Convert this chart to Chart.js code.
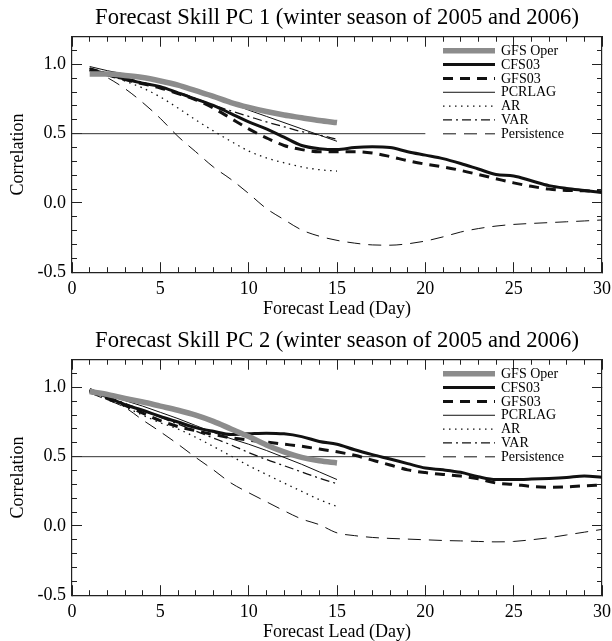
<!DOCTYPE html>
<html>
<head>
<meta charset="utf-8">
<script src="https://cdn.jsdelivr.net/npm/chart.js@4.4.0/dist/chart.umd.min.js"></script>
<style>
  html, body { margin: 0; padding: 0; background: #fff; overflow: hidden; }
  .panel { position: absolute; left: 0; }
  #top { top: 0; }
  #bottom { top: 323px; }
</style>
</head>
<body>
<canvas id="top" class="panel" width="612" height="323"></canvas>
<canvas id="bottom" class="panel" width="612" height="323"></canvas>
<script>
// lead days
const days = [1, 2, 3, 4, 5, 6, 7, 8, 9, 10, 11, 12, 13, 14, 15,
  16, 17, 18, 19, 20, 21, 22, 23, 24, 25, 26, 27, 28, 29, 30];
const refDays = [0, 20];
const refLevel = [0.5, 0.5];

// PC 1
const pc1GfsOper = [0.93, 0.93, 0.92, 0.905, 0.88, 0.85, 0.81, 0.77, 0.725, 0.69, 0.66, 0.635, 0.615, 0.595, 0.58];
const pc1Cfs03 = [0.965, 0.93, 0.895, 0.865, 0.84, 0.795, 0.75, 0.705, 0.645, 0.585, 0.535, 0.475, 0.415, 0.392, 0.385,
  0.40, 0.405, 0.40, 0.37, 0.345, 0.32, 0.285, 0.245, 0.205, 0.195, 0.16, 0.125, 0.105, 0.09, 0.075];
const pc1Gfs03 = [0.96, 0.925, 0.89, 0.86, 0.83, 0.79, 0.745, 0.685, 0.61, 0.535, 0.47, 0.415, 0.385, 0.37, 0.37,
  0.37, 0.36, 0.335, 0.305, 0.28, 0.26, 0.235, 0.205, 0.175, 0.145, 0.12, 0.1, 0.09, 0.088, 0.08];
const pc1Pcrlag = [0.985, 0.955, 0.93, 0.905, 0.88, 0.85, 0.81, 0.77, 0.72, 0.67, 0.625, 0.58, 0.535, 0.49, 0.445];
const pc1Ar = [0.97, 0.93, 0.88, 0.83, 0.765, 0.685, 0.60, 0.52, 0.445, 0.375, 0.325, 0.29, 0.26, 0.24, 0.23];
const pc1Var = [0.975, 0.94, 0.905, 0.87, 0.835, 0.80, 0.755, 0.705, 0.665, 0.625, 0.585, 0.55, 0.515, 0.49, 0.46];
const pc1Persist = [0.97, 0.905, 0.825, 0.725, 0.61, 0.48, 0.37, 0.26, 0.17, 0.068, -0.04, -0.12, -0.195, -0.24, -0.27,
  -0.29, -0.303, -0.305, -0.295, -0.275, -0.245, -0.21, -0.185, -0.167, -0.155, -0.148, -0.142, -0.136, -0.13, -0.123];

// PC 2
const pc2GfsOper = [0.97, 0.95, 0.92, 0.895, 0.865, 0.835, 0.80, 0.755, 0.70, 0.645, 0.585, 0.535, 0.495, 0.47, 0.455];
const pc2Cfs03 = [0.985, 0.93, 0.875, 0.835, 0.79, 0.75, 0.71, 0.683, 0.66, 0.665, 0.67, 0.665, 0.645, 0.61, 0.59,
  0.55, 0.515, 0.483, 0.45, 0.418, 0.405, 0.387, 0.355, 0.335, 0.335, 0.338, 0.343, 0.35, 0.36, 0.352];
const pc2Gfs03 = [0.975, 0.92, 0.87, 0.815, 0.76, 0.717, 0.688, 0.66, 0.637, 0.62, 0.605, 0.59, 0.575, 0.555, 0.535,
  0.51, 0.475, 0.44, 0.405, 0.385, 0.372, 0.36, 0.34, 0.31, 0.30, 0.285, 0.28, 0.282, 0.29, 0.295];
const pc2Pcrlag = [0.98, 0.945, 0.905, 0.865, 0.82, 0.775, 0.725, 0.675, 0.63, 0.59, 0.545, 0.495, 0.445, 0.39, 0.335];
const pc2Ar = [0.97, 0.92, 0.86, 0.80, 0.745, 0.70, 0.64, 0.574, 0.505, 0.435, 0.372, 0.31, 0.25, 0.19, 0.14];
const pc2Var = [0.97, 0.93, 0.885, 0.835, 0.785, 0.735, 0.685, 0.635, 0.585, 0.53, 0.48, 0.435, 0.39, 0.345, 0.305];
const pc2Persist = [0.96, 0.91, 0.855, 0.765, 0.68, 0.59, 0.495, 0.405, 0.31, 0.24, 0.175, 0.11, 0.05, 0.009, -0.05,
  -0.07, -0.083, -0.09, -0.095, -0.1, -0.105, -0.108, -0.112, -0.115, -0.112, -0.1, -0.085, -0.065, -0.045, -0.025];

Chart.defaults.font.family = "'Liberation Serif', 'Times New Roman', serif";
Chart.defaults.color = "#000";

const serif = (size) => ({ family: "'Liberation Serif', serif", size: size, weight: "normal", lineHeight: 1.2 });

// line look of each series
const styles = {
  "GFS Oper": { borderColor: "#8c8c8c", borderWidth: 5.5 },
  "CFS03": { borderColor: "#111", borderWidth: 3 },
  "GFS03": { borderColor: "#111", borderWidth: 3, borderDash: [10, 7] },
  "PCRLAG": { borderColor: "#111", borderWidth: 1 },
  "AR": { borderColor: "#111", borderWidth: 1.3, borderDash: [1.5, 4.5] },
  "VAR": { borderColor: "#111", borderWidth: 1.3, borderDash: [9, 4, 2, 4] },
  "Persistence": { borderColor: "#111", borderWidth: 1, borderDash: [13, 8] },
};

function points(xs, ys) {
  return ys.map((v, i) => ({ x: xs[i], y: v }));
}

function makeDatasets(list) {
  const sets = list.map(([name, values]) => Object.assign({
    label: name,
    data: points(days, values),
    pointRadius: 0,
    cubicInterpolationMode: "monotone",
    fill: false,
    inLegend: true,
  }, styles[name]));
  sets.push({
    label: "ref",
    data: points(refDays, refLevel),
    borderColor: "#333",
    borderWidth: 1,
    pointRadius: 0,
    fill: false,
    inLegend: false,
  });
  return sets;
}

// legend drawn inside the plot, top right
const inlineLegend = {
  id: "inlineLegend",
  afterDatasetsDraw(chart) {
    const { ctx, chartArea } = chart;
    ctx.save();
    chart.data.datasets.forEach((ds, i) => {
      if (!ds.inLegend) return;
      const y = chartArea.top + 14 + i * 13.85;
      ctx.strokeStyle = ds.borderColor;
      ctx.lineWidth = ds.borderWidth;
      ctx.setLineDash(ds.borderDash || []);
      ctx.beginPath();
      ctx.moveTo(chartArea.right - 159, y);
      ctx.lineTo(chartArea.right - 107, y);
      ctx.stroke();
      ctx.setLineDash([]);
      ctx.fillStyle = "#000";
      ctx.font = "14px 'Liberation Serif'";
      ctx.textBaseline = "middle";
      ctx.textAlign = "left";
      ctx.fillText(ds.label, chartArea.right - 101, y + 0.5);
    });
    ctx.restore();
  },
};

function tickAxis(pos, min, max, step, len, weight, size, extra) {
  const horizontal = pos === "top" || pos === "bottom";
  return Object.assign({
    type: "linear",
    position: pos,
    min: min,
    max: max,
    weight: weight,
    ticks: { stepSize: step, display: false, includeBounds: false },
    grid: { drawOnChartArea: false, tickLength: -len, color: "#222", tickWidth: 1 },
    border: { display: false },
    afterFit: (s) => {
      if (horizontal) s.height = size; else s.width = size;
      // labels may hang past the plot edge, no extra padding for them
      s.paddingLeft = 0; s.paddingRight = 0; s.paddingTop = 0; s.paddingBottom = 0;
    },
  }, extra || {});
}

function makeScales(canvasH) {
  const xh = canvasH - 272.2;
  return {
    x: tickAxis("bottom", 0, 30, 5, 10, 1, xh, {
      ticks: { stepSize: 5, padding: 16, font: serif(18), color: "#000", maxRotation: 0 },
      border: { display: true, color: "#222", width: 1.2 },
      title: { display: true, text: "Forecast Lead (Day)", font: serif(18), color: "#000", padding: { top: 0, bottom: 3.2 } },
    }),
    xMinor: tickAxis("bottom", 0, 30, 1, 5, 0, 0),
    xTop: tickAxis("top", 0, 30, 5, 10, 1, 0, { border: { display: true, color: "#222", width: 1.2 } }),
    xTopMinor: tickAxis("top", 0, 30, 1, 5, 0, 0),
    y: tickAxis("left", -0.5, 1.2, 0.5, 10, 1, 72, {
      ticks: { stepSize: 0.5, includeBounds: false, padding: 16, font: serif(18), color: "#000",
        callback: (v) => v.toFixed(1) },
      border: { display: true, color: "#222", width: 1.2 },
      title: { display: true, text: "Correlation", font: serif(18), color: "#000", padding: { top: 7.2, bottom: 0 } },
    }),
    yMinor: tickAxis("left", -0.5, 1.2, 0.1, 5, 0, 0),
    yRight: tickAxis("right", -0.5, 1.2, 0.5, 10, 1, 0, { border: { display: true, color: "#222", width: 1.2 } }),
    yRightMinor: tickAxis("right", -0.5, 1.2, 0.1, 5, 0, 0),
  };
}

function drawPanel(id, titleText, list) {
  const canvas = document.getElementById(id);
  return new Chart(canvas.getContext("2d"), {
    type: "line",
    data: { datasets: makeDatasets(list) },
    options: {
      responsive: false,
      animation: false,
      layout: { padding: { left: 0, right: 10, top: 0, bottom: 0 }, autoPadding: false },
      scales: makeScales(canvas.height),
      plugins: {
        legend: { display: false },
        tooltip: { enabled: false },
        title: {
          display: true,
          fullSize: false,
          text: titleText,
          font: serif(22.6),
          color: "#000",
          padding: { top: 5, bottom: 4.6 },
        },
      },
    },
    plugins: [inlineLegend],
  });
}

drawPanel("top", "Forecast Skill PC 1 (winter season of 2005 and 2006)", [
  ["GFS Oper", pc1GfsOper], ["CFS03", pc1Cfs03], ["GFS03", pc1Gfs03], ["PCRLAG", pc1Pcrlag],
  ["AR", pc1Ar], ["VAR", pc1Var], ["Persistence", pc1Persist],
]);

drawPanel("bottom", "Forecast Skill PC 2 (winter season of 2005 and 2006)", [
  ["GFS Oper", pc2GfsOper], ["CFS03", pc2Cfs03], ["GFS03", pc2Gfs03], ["PCRLAG", pc2Pcrlag],
  ["AR", pc2Ar], ["VAR", pc2Var], ["Persistence", pc2Persist],
]);
</script>
</body>
</html>
